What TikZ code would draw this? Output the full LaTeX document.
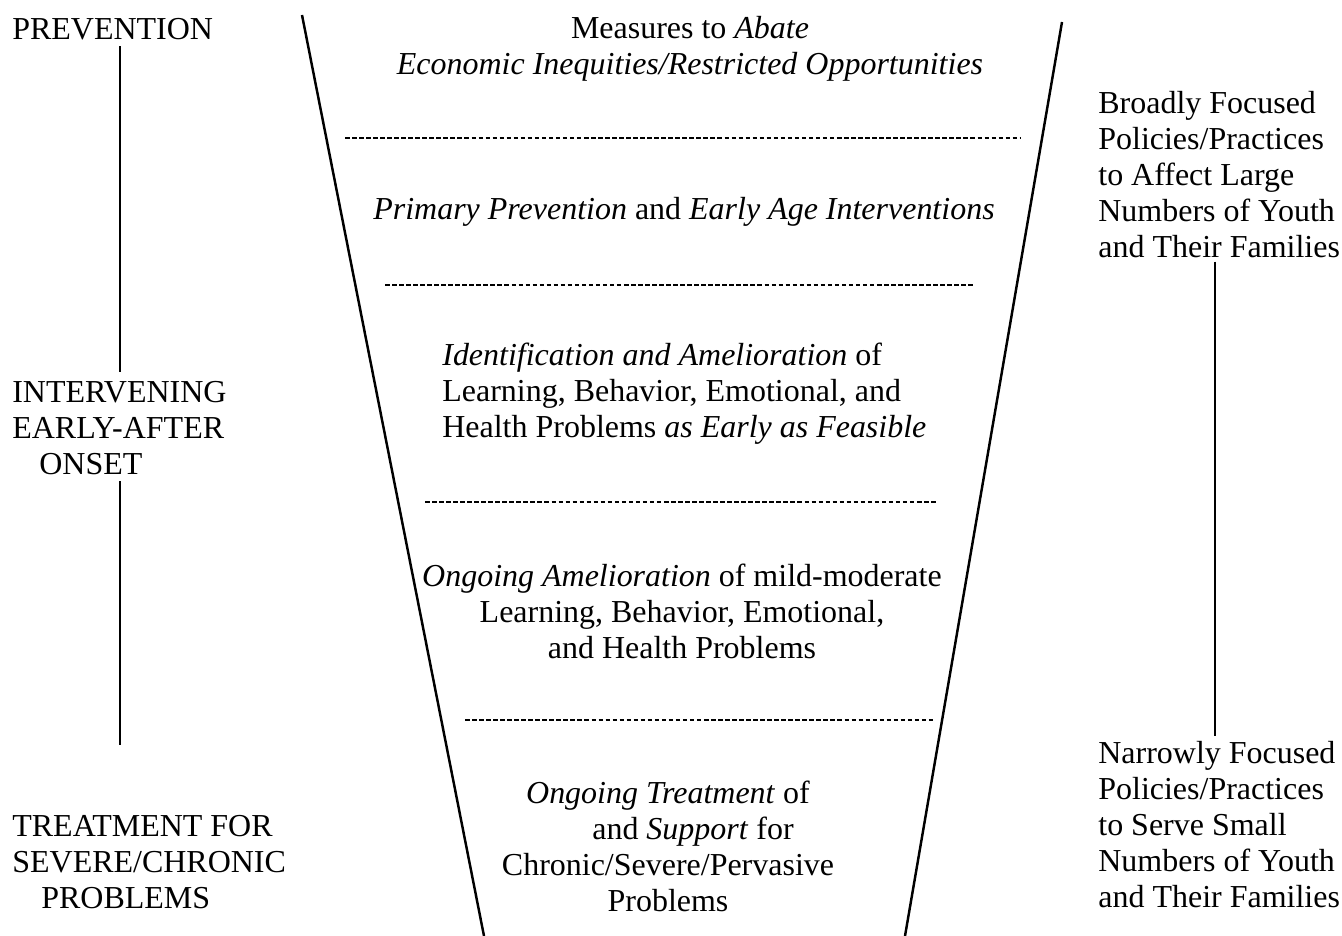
\documentclass[tikz,border=0pt]{standalone}
\usepackage{fontspec}
\setmainfont{Liberation Serif}

\begin{document}
\begin{tikzpicture}[x=0.02cm,y=-0.02cm]
	\tikzstyle{label}=[inner sep=0pt,font=\fontsize{18.2}{20.5}\selectfont]
	\tikzstyle{level}=[label,align=center]
	\tikzstyle{side}=[label,align=left,anchor=west]
	\tikzstyle{sep}=[line width=1.6pt,dash pattern=on 2.6pt off 1.4pt]
	\tikzstyle{link}=[line width=1.1pt]

	\useasboundingbox (0,0) rectangle (1342,936);

	\coordinate (funnelLT) at (302,15);
	\coordinate (funnelLB) at (484,936);
	\coordinate (funnelRT) at (1062,22);
	\coordinate (funnelRB) at (905,936);
	\draw[line width=1.4pt] (funnelLT) -- (funnelLB);
	\draw[line width=1.4pt] (funnelRT) -- (funnelRB);

	\node[level] (abate) at (690,49) {Measures to \textit{Abate}\\\textit{Economic Inequities/Restricted Opportunities}};
	\node[level] (primary) at (684,212) {\textit{Primary Prevention} and \textit{Early Age Interventions}};
	\node[side] (identify) at (442,394) {\textit{Identification and Amelioration} of\\Learning, Behavior, Emotional, and\\Health Problems \textit{as Early as Feasible}};
	\node[level] (ongoing) at (682,611) {\textit{Ongoing Amelioration} of mild-moderate\\Learning, Behavior, Emotional,\\and Health Problems};
	\node[level] (treat) at (668,846) {\textit{Ongoing Treatment} of\\\hspace*{1cm}and \textit{Support} for\\Chronic/Severe/Pervasive\\Problems};

	\coordinate (sepA1) at (345,138); \coordinate (sepA2) at (1020,138);
	\coordinate (sepB1) at (385,285); \coordinate (sepB2) at (975,285);
	\coordinate (sepC1) at (425,502); \coordinate (sepC2) at (938,502);
	\coordinate (sepD1) at (465,720); \coordinate (sepD2) at (933,720);
	\draw[sep] (sepA1) -- (sepA2);
	\draw[sep] (sepB1) -- (sepB2);
	\draw[sep] (sepC1) -- (sepC2);
	\draw[sep] (sepD1) -- (sepD2);

	\node[side] (prevention) at (12,29) {PREVENTION};
	\node[side] (intervening) at (12,428) {INTERVENING\\EARLY-AFTER\\\hspace*{0.54cm}ONSET};
	\node[side] (severe) at (12,862) {TREATMENT FOR\\SEVERE/CHRONIC\\\hspace*{0.58cm}PROBLEMS};
	\coordinate (leftaxis) at (120,0);
	\draw[link] (prevention.south -| leftaxis) ++(0,6) -- ([yshift=0.18cm]intervening.north -| leftaxis);
	\draw[link] ([yshift=-0.12cm]intervening.south -| leftaxis) -- ([yshift=1.4cm]severe.north -| leftaxis);

	\node[side] (broad) at (1098,175) {Broadly Focused\\Policies/Practices\\to Affect Large\\Numbers of Youth\\and Their Families};
	\node[side] (narrow) at (1098,825) {Narrowly Focused\\Policies/Practices\\to Serve Small\\Numbers of Youth\\and Their Families};
	\coordinate (rightaxis) at (1215,0);
	\draw[link] ([yshift=-0.06cm]broad.south -| rightaxis) -- ([yshift=0.1cm]narrow.north -| rightaxis);
\end{tikzpicture}
\end{document}
